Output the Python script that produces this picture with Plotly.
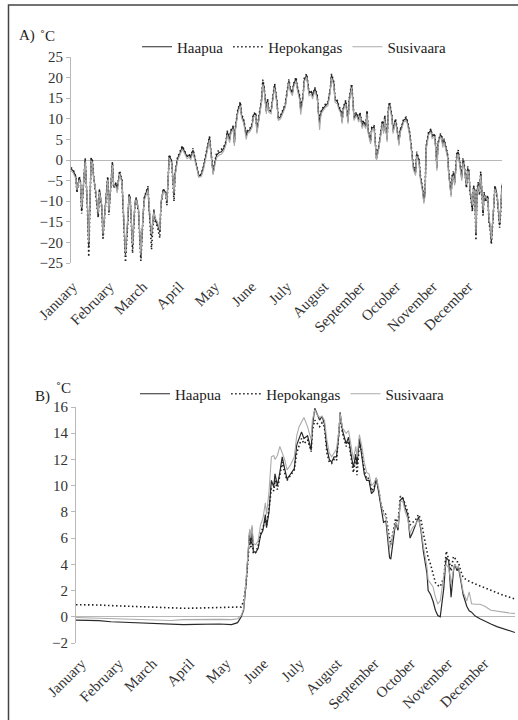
import plotly.graph_objects as go

W, H = 518, 720

# ---------------- Panel A: air temperature ----------------
days_a = [1, 3, 5, 6, 8, 9, 10, 12, 13, 15, 16, 18, 19, 20, 22, 24, 25, 27, 28, 30,
          32, 33, 35, 36, 37, 39, 40, 42, 44, 45, 47, 49, 50, 51, 53, 55, 56, 58, 60, 62,
          63, 66, 67, 69, 71, 72, 74, 76, 77, 79, 81, 82, 84, 86, 88, 89, 91, 93, 95, 97,
          99, 101, 102, 104, 106, 108, 109, 111, 113, 115, 117, 118, 119, 121, 123, 124, 126, 128, 130, 132,
          133, 135, 136, 138, 139, 140, 142, 144, 145, 147, 149, 150, 152, 154, 155, 157, 158, 160, 162, 163,
          164, 166, 167, 168, 170, 172, 173, 175, 176, 178, 180, 182, 183, 185, 186, 188, 189, 191, 192, 194,
          195, 197, 198, 200, 201, 202, 204, 205, 207, 209, 210, 211, 212, 213, 215, 216, 218, 220, 221, 223,
          224, 226, 227, 229, 230, 231, 233, 234, 235, 236, 238, 239, 240, 242, 244, 245, 247, 248, 250, 251,
          252, 254, 255, 257, 258, 259, 261, 262, 264, 265, 266, 268, 269, 270, 272, 273, 275, 276, 278, 279,
          280, 282, 284, 285, 287, 288, 289, 290, 292, 293, 295, 296, 298, 299, 300, 301, 303, 305, 306, 308,
          309, 310, 311, 313, 314, 315, 316, 318, 319, 320, 322, 323, 324, 325, 327, 328, 329, 331, 332, 333,
          335, 336, 337, 338, 340, 341, 342, 343, 344, 345, 346, 347, 348, 349, 350, 351, 353, 354, 355, 356,
          358, 359, 360, 361, 363, 364, 365]

haapua_a = [-2.1, -2.7, -3.9, -7.5, -4.3, -5.1, -12.4, -1.9, 0.2, -12, -21, 0.3, 0, -3.9, -7.9, -13.6, -7.1, -11.2, -18.5, -11,
            -4.3, -12.8, -3.9, -0.6, -6.3, -5.9, -7.1, -3.1, -5.1, -10.4, -23, -14.4, -8.3, -9.1, -21.0, -10.4, -9.1, -12, -23.5, -12.8,
            -9.1, -6.7, -12, -18.5, -12, -14.4, -15.6, -17.5, -10.4, -7.1, -7.9, -10.4, 1.0, -0.2, -8.5, -3.2, 0.4, 1.6, 3.2, 2.0,
            0.8, 1.2, 0.4, 2.4, 0.0, -2.4, -3.9, -3.6, -1.6, 1.2, 3.6, 5.5, 2.4, -3.2, 0.0, 1.2, 1.8, 2.0, 2.8, 4.4,
            6.9, 4.9, 6.9, 8.1, 4.0, 8.1, 12.1, 13.8, 10.9, 9.3, 5.7, 6.9, 7.3, 8.5, 10.9, 11.3, 6.9, 10.5, 14.6, 19.0,
            17.8, 11.7, 14.6, 12.1, 11.7, 16.2, 18.2, 13.8, 10.1, 10.5, 12.1, 13.3, 15.4, 19.3, 17.4, 16.2, 18.2, 19.8, 17.8, 15.4,
            12.1, 15.4, 19.4, 20.6, 18.6, 16.2, 16.6, 15.4, 17.4, 15.4, 11.3, 9.0, 11.3, 12.1, 12.9, 13.3, 13.8, 17.0, 20.6, 18.6,
            14.6, 14.2, 12.9, 11.7, 9.3, 12.5, 14.2, 11.7, 9.3, 14.6, 18.2, 14.6, 10.1, 11.3, 9.7, 11.3, 8.1, 9.3, 8.1, 11.7,
            6.9, 4.4, 7.7, 8.1, 4.0, 0.2, 3.2, 5.3, 9.3, 6.9, 10.5, 4.9, 12.1, 13.8, 10.5, 6.9, 9.7, 8.1, 4.0, 7.3,
            7.7, 9.7, 10.1, 9.3, 6.5, 4.0, 0.8, -1.6, -3.2, 1.6, -0.4, -4.0, -7.3, -10.1, -8.1, 3.2, 6.5, 7.3, 5.7, 6.1,
            3.2, -2.0, 4.0, 6.1, 5.7, 3.6, 4.9, 2.8, 1.2, -3.2, -8.5, -4.0, -3.2, -5.7, 1.6, 2.0, -0.4, -4.4, 0.0, -1.2,
            -6.5, -2.0, -2.8, -7.3, -11.8, -6.5, -7.3, -18.0, -7.3, -5.7, -8.1, -3.2, -7.3, -12.9, -8.1, -9.7, -8.9, -14.6, -16.2, -19.8,
            -11.3, -6.5, -7.3, -8.9, -15.8, -12.1, -6.1]

hepokangas_a = [-1.8, -2.5, -4.2, -8.0, -4.0, -5.5, -13.0, -2.2, 0.4, -13, -23.5, 0.5, 0.2, -3.5, -8.3, -14.0, -7.4, -11.8, -19.4, -11.4,
                -4.0, -13.3, -3.6, -0.5, -6.8, -5.5, -7.6, -2.6, -4.8, -11.0, -24.8, -15.0, -8.6, -9.4, -22.6, -10.8, -9.3, -12.6, -24.5, -13.2,
                -9.0, -6.4, -12.5, -21.7, -12.4, -14.8, -16.2, -18.9, -10.8, -7.0, -8.3, -11.0, 1.3, -0.4, -10.0, -3.0, 0.6, 1.9, 3.4, 2.2,
                1.0, 1.4, 0.6, 2.8, 0.2, -2.2, -4.1, -3.4, -1.4, 1.5, 3.8, 5.7, 2.6, -2.8, 0.3, 1.8, 2.4, 2.6, 3.2, 4.6,
                7.1, 5.3, 7.2, 8.3, 4.4, 8.3, 12.4, 14.1, 11.2, 9.6, 6.0, 7.2, 7.6, 8.8, 11.2, 11.5, 7.4, 10.8, 14.9, 19.5,
                18.0, 12.0, 14.8, 12.4, 12.0, 16.5, 18.5, 14.1, 10.5, 10.8, 12.4, 13.6, 15.7, 19.6, 17.7, 16.4, 18.5, 20.1, 18.0, 15.7,
                12.5, 15.6, 19.8, 20.9, 18.9, 16.5, 16.8, 15.6, 17.6, 15.6, 11.6, 9.4, 11.6, 12.4, 13.2, 13.6, 14.0, 17.3, 20.9, 18.9,
                14.9, 14.4, 13.2, 12.0, 9.7, 12.8, 14.5, 12.0, 9.6, 14.9, 18.5, 14.9, 10.4, 11.6, 10.0, 11.6, 8.4, 9.6, 8.4, 12.0,
                7.2, 4.8, 8.0, 8.4, 4.4, 0.5, 3.5, 5.6, 9.6, 7.2, 10.8, 5.3, 12.4, 14.1, 10.8, 7.2, 10.0, 8.4, 4.4, 7.6,
                8.0, 10.0, 10.4, 9.6, 6.8, 4.4, 1.2, -1.2, -2.8, 2.0, 0.0, -3.6, -7.0, -9.2, -7.8, 3.5, 6.8, 7.5, 6.0, 6.4,
                3.6, -1.6, 4.3, 6.4, 6.0, 4.0, 5.2, 3.2, 1.6, -2.8, -8.0, -3.6, -2.8, -5.4, 2.0, 2.4, 0.0, -4.0, 0.4, -0.8,
                -6.8, -1.6, -2.4, -7.8, -12.5, -6.2, -7.6, -19.5, -7.0, -5.4, -8.5, -2.8, -7.6, -13.5, -7.8, -10.2, -8.6, -15.2, -16.8, -20.5,
                -11.8, -6.2, -7.6, -9.4, -16.4, -12.6, -5.8]

susivaara_a = [-2.5, -3.2, -4.5, -7.2, -4.8, -5.6, -11.5, -2.4, -0.3, -11.5, -20, -0.2, -0.5, -4.2, -7.6, -13.0, -7.8, -10.8, -18.0, -11.8,
               -4.8, -12.4, -4.5, -1.2, -6.0, -6.5, -8.0, -3.4, -5.5, -10.0, -22.5, -14.0, -8.8, -9.5, -20.5, -10.2, -9.6, -11.6, -23.0, -12.5,
               -9.8, -7.2, -11.5, -18.0, -12.6, -14.0, -15.0, -17.0, -10.0, -7.6, -8.2, -10.0, 0.5, -0.8, -8.0, -3.8, -0.2, 1.0, 2.6, 1.5,
               0.3, 0.7, 0.0, 1.8, -0.6, -3.0, -4.2, -4.0, -2.2, 0.6, 3.0, 4.9, 1.8, -3.6, -0.5, 0.6, 1.2, 1.4, 2.2, 3.8,
               6.2, 4.2, 6.4, 7.6, 3.4, 7.5, 11.5, 13.2, 10.3, 8.7, 5.0, 6.4, 6.8, 8.0, 10.3, 10.8, 6.4, 10.0, 14.0, 18.4,
               17.2, 11.2, 14.0, 11.6, 11.2, 15.6, 17.6, 13.2, 9.6, 10.0, 11.6, 12.8, 14.8, 18.8, 16.8, 15.6, 17.6, 19.2, 17.2, 14.6,
               11.0, 14.8, 18.9, 20.2, 18.0, 15.6, 16.0, 14.8, 16.8, 14.8, 10.6, 7.3, 10.8, 11.6, 12.4, 12.8, 13.2, 16.4, 20.0, 18.0,
               14.0, 13.6, 12.4, 11.2, 8.8, 12.0, 13.6, 11.2, 8.8, 14.0, 17.6, 14.0, 9.6, 10.8, 9.2, 10.8, 7.6, 8.8, 7.6, 11.2,
               6.4, 3.9, 7.2, 7.6, 3.5, 0.0, 2.7, 4.8, 8.8, 6.4, 10.0, 4.4, 11.6, 13.2, 10.0, 6.4, 9.2, 7.6, 3.5, 6.8,
               7.2, 9.2, 9.6, 8.8, 6.0, 3.5, 0.2, -2.2, -3.8, 1.0, -1.0, -4.6, -8.0, -10.6, -8.8, 2.6, 6.0, 6.8, 5.2, 5.6,
               2.6, -2.6, 3.5, 5.6, 5.2, 3.0, 4.4, 2.2, 0.6, -3.8, -9.0, -4.6, -3.8, -6.2, 1.0, 1.4, -1.0, -5.0, -0.6, -1.8,
               -6.0, -2.6, -3.4, -6.8, -11.0, -7.0, -7.8, -17.5, -7.8, -6.2, -7.8, -3.8, -7.0, -12.2, -8.6, -9.2, -9.4, -14.0, -15.6, -19.2,
               -10.8, -7.0, -7.8, -8.5, -15.2, -11.6, -6.6]

# ---------------- Panel B: soil temperature ----------------
days_b = [1, 10, 20, 30, 40, 50, 60, 70, 80, 90, 100, 110, 120, 130, 135, 138, 140, 142, 144, 145,
          146, 147, 148, 150, 152, 154, 156, 158, 159, 161, 163, 165, 166, 168, 170, 172, 174, 176, 179, 182,
          184, 186, 188, 190, 193, 196, 197, 199, 201, 203, 205, 207, 209, 211, 213, 215, 217, 219, 220, 222,
          225, 227, 229, 231, 233, 234, 236, 238, 240, 242, 244, 246, 248, 250, 252, 254, 256, 258, 260, 261,
          262, 264, 266, 268, 270, 272, 274, 276, 278, 280, 282, 285, 287, 289, 292, 293, 295, 297, 299, 301,
          303, 306, 307, 308, 310, 311, 312, 314, 315, 317, 318, 320, 322, 325, 327, 329, 332, 336, 340, 345,
          350, 355, 360, 365]

haapua_b = [-0.25, -0.27, -0.3, -0.38, -0.42, -0.45, -0.5, -0.55, -0.6, -0.6, -0.58, -0.55, -0.55, -0.6, -0.45, 0.0, 0.5, 2.5, 5.0, 6.6,
            5.5, 6.8, 5.0, 4.9, 5.2, 6.2, 6.6, 7.8, 6.8, 8.0, 10.4, 9.9, 10.9, 10.0, 11.0, 12.2, 11.3, 10.5, 10.9, 11.3,
            13.1, 13.6, 14.1, 13.6, 13.8, 12.7, 14.5, 15.9, 15.5, 15.0, 15.3, 14.7, 12.9, 12.0, 11.8, 12.2, 12.2, 14.0, 15.6, 14.2,
            13.2, 13.7, 12.4, 11.4, 12.4, 11.6, 13.6, 12.4, 10.9, 10.4, 10.4, 9.4, 9.6, 10.6, 9.4, 8.1, 7.2, 7.3, 5.5, 4.5,
            4.4, 6.0, 7.2, 6.6, 8.9, 9.1, 8.3, 7.8, 6.0, 6.4, 6.9, 7.6, 6.6, 5.0, 3.3, 2.0, 1.7, 1.2, 0.5, 0.1,
            0.0, 2.2, 3.5, 4.5, 4.3, 3.0, 1.5, 3.5, 4.0, 3.5, 3.8, 2.8, 1.7, 0.8, 0.45, 0.35, 0.05, -0.15, -0.35, -0.55,
            -0.75, -0.9, -1.05, -1.2]

hepokangas_b = [0.92, 0.92, 0.9, 0.85, 0.82, 0.78, 0.72, 0.68, 0.65, 0.65, 0.66, 0.68, 0.7, 0.72, 0.72, 0.75, 1.2, 2.5, 4.8, 6.2,
                5.2, 6.5, 4.8, 4.9, 5.4, 6.3, 6.8, 7.4, 7.0, 8.2, 9.8, 9.6, 10.4, 9.7, 10.8, 11.8, 11.0, 10.4, 10.8, 11.2,
                12.5, 13.0, 13.6, 13.2, 13.5, 12.6, 14.2, 15.0, 14.7, 14.5, 14.8, 14.5, 12.5, 11.8, 11.7, 12.0, 11.9, 13.8, 15.2, 14.0,
                13.0, 13.4, 12.0, 11.0, 12.2, 10.8, 13.3, 12.6, 11.2, 10.5, 10.6, 9.6, 9.8, 10.5, 9.7, 8.5, 8.0, 7.8, 6.5, 5.8,
                5.5, 6.5, 7.5, 7.2, 9.2, 9.0, 8.6, 8.0, 7.0, 7.2, 7.3, 7.8, 7.4, 6.4, 5.0, 4.5, 4.0, 3.2, 2.6, 2.4,
                2.3, 3.0, 4.0, 5.0, 4.4, 3.8, 3.5, 4.6, 4.5, 4.2, 4.2, 3.5, 3.0, 2.8, 2.7, 2.6, 2.5, 2.35, 2.2, 2.0,
                1.8, 1.65, 1.5, 1.35]

susivaara_b = [-0.05, -0.08, -0.1, -0.12, -0.15, -0.18, -0.25, -0.3, -0.28, -0.22, -0.2, -0.2, -0.2, -0.22, -0.15, 0.1, 0.6, 2.8, 5.5, 6.7,
               6.0, 7.0, 5.6, 5.5, 5.8, 7.0, 7.5, 8.7, 7.8, 9.5, 12.2, 12.3, 12.0, 12.3, 13.0, 12.5, 12.0, 11.2, 11.6, 12.2,
               13.8, 14.5, 14.8, 15.2, 14.5, 13.5, 15.0, 15.8, 15.4, 15.2, 15.3, 15.0, 13.5, 12.5, 12.2, 12.5, 12.8, 14.2, 15.5, 14.4,
               14.0, 14.2, 13.0, 12.0, 13.0, 12.2, 13.9, 13.0, 11.8, 11.0, 10.9, 10.0, 10.2, 10.6, 9.8, 8.6, 7.8, 7.6, 6.0, 5.2,
               5.5, 6.5, 7.2, 6.8, 8.8, 8.8, 8.0, 7.5, 6.4, 6.8, 7.0, 7.4, 6.8, 5.4, 3.8, 2.8, 2.5, 2.3, 1.5, 1.0,
               1.2, 3.0, 3.8, 4.0, 3.7, 3.2, 2.5, 3.6, 4.0, 3.7, 3.9, 3.0, 1.9, 1.2, 1.9, 1.0, 0.95, 0.95, 0.8, 0.5,
               0.42, 0.38, 0.3, 0.25]

# ---------------- Shared labels ----------------
series_names = ["Haapua", "Hepokangas", "Susivaara"]
month_labels = ["January", "February", "March", "April", "May", "June", "July",
                "August", "September", "October", "November", "December"]
month_start = [1, 32, 60, 91, 121, 152, 182, 213, 244, 274, 305, 335]
yticks_a = [25, 20, 15, 10, 5, 0, -5, -10, -15, -20, -25]
yticks_b = [16, 14, 12, 10, 8, 6, 4, 2, 0, -2]

FONT = "Liberation Serif, Times New Roman, serif"
styles = [dict(color="#2a2a2a", width=1.2, dash="solid"),
          dict(color="#1e1e1e", width=1.6, dash="1.5px,2.5px"),
          dict(color="#ababab", width=1.1, dash="solid")]

fig = go.Figure()
for name, ys, st in zip(series_names, [haapua_a, hepokangas_a, susivaara_a], styles):
    fig.add_trace(go.Scatter(x=days_a, y=ys, mode="lines", name=name, line=st,
                             xaxis="x", yaxis="y", legend="legend"))
for name, ys, st in zip(series_names, [haapua_b, hepokangas_b, susivaara_b], styles):
    fig.add_trace(go.Scatter(x=days_b, y=ys, mode="lines", name=name, line=st,
                             xaxis="x2", yaxis="y2", legend="legend2"))

def px(v):
    return v / W

def py(v):
    return 1 - v / H

axis_grey = "#b8b8b8"

def xaxis_style(offset, ticklen):
    return dict(range=[1, 365], showgrid=False, zeroline=False, showline=False, automargin=False,
                tickmode="array", tickvals=[d + offset for d in month_start], ticktext=month_labels,
                tickangle=-45, ticks="outside", ticklen=ticklen, tickcolor="rgba(0,0,0,0)",
                tickfont=dict(family=FONT, size=15, color="#333"))

ycommon = dict(showgrid=False, zeroline=True, zerolinecolor=axis_grey, zerolinewidth=1,
               showline=True, linecolor=axis_grey, linewidth=1, ticks="outside", automargin=False,
               ticklen=4, tickcolor=axis_grey, tickmode="array",
               tickfont=dict(family=FONT, size=15, color="#333"))

legcommon = dict(orientation="h", xanchor="left", yanchor="middle",
                 font=dict(family=FONT, size=15, color="#222"),
                 bgcolor="rgba(0,0,0,0)", itemclick=False, itemdoubleclick=False)

fig.update_layout(
    template="none",
    width=W, height=H,
    margin=dict(l=0, r=0, t=0, b=0, autoexpand=False),
    font=dict(family=FONT, size=15, color="#222"),
    paper_bgcolor="white", plot_bgcolor="white",
    xaxis=dict(domain=[px(71), px(502)], anchor="y", **xaxis_style(1.5, 8)),
    yaxis=dict(domain=[py(263), py(57)], range=[-25, 25], anchor="x",
               tickvals=yticks_a, **ycommon),
    xaxis2=dict(domain=[px(76), px(515)], anchor="y2", **xaxis_style(4.5, 5)),
    yaxis2=dict(domain=[py(643), py(407)], range=[-2, 16], anchor="x2",
                tickvals=yticks_b, **ycommon),
    legend=dict(x=px(137), y=py(47), **legcommon),
    legend2=dict(x=px(135), y=py(394), **legcommon),
    shapes=[dict(type="rect", xref="paper", yref="paper",
                 x0=px(8.5), x1=1.05, y0=-0.05, y1=py(5),
                 line=dict(color="#444", width=1.5), fillcolor="rgba(0,0,0,0)", layer="above")],
    annotations=[
        dict(text="A)", x=px(17), y=py(35), xref="paper", yref="paper", showarrow=False,
             xanchor="left", yanchor="middle", font=dict(family=FONT, size=15, color="#222")),
        dict(text="˚C", x=px(38), y=py(36), xref="paper", yref="paper", showarrow=False,
             xanchor="left", yanchor="middle", font=dict(family=FONT, size=15, color="#222")),
        dict(text="B)", x=px(33), y=py(396), xref="paper", yref="paper", showarrow=False,
             xanchor="left", yanchor="middle", font=dict(family=FONT, size=15, color="#222")),
        dict(text="˚C", x=px(54), y=py(388), xref="paper", yref="paper", showarrow=False,
             xanchor="left", yanchor="middle", font=dict(family=FONT, size=15, color="#222")),
    ],
)

fig.write_html("out.html", config={"displayModeBar": False},
               post_script="document.body.style.margin='0px';")
